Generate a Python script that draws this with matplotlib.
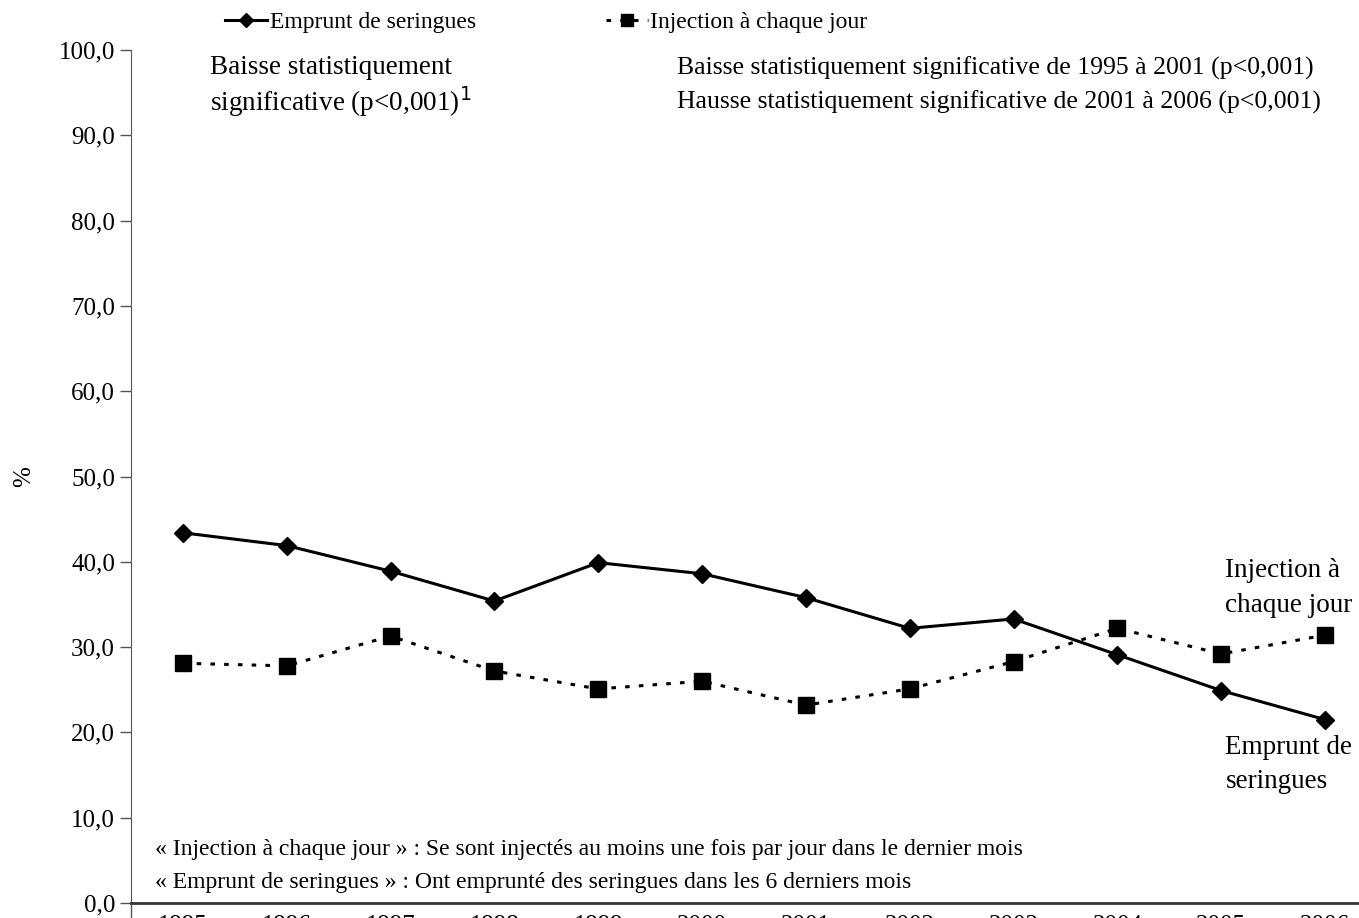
import matplotlib.pyplot as plt
import numpy as np

plt.rcParams['font.family'] = ['Liberation Serif', 'DejaVu Serif']

annees = ['1995', '1996', '1997', '1998', '1999', '2000',
          '2001', '2002', '2003', '2004', '2005', '2006']
emprunt = [43.4, 41.9, 38.9, 35.4, 39.9, 38.6, 35.8, 32.2, 33.3, 29.1, 24.9, 21.5]
injection = [28.1, 27.8, 31.3, 27.2, 25.1, 26.0, 23.2, 25.1, 28.3, 32.2, 29.2, 31.4]
y_ticks = np.arange(0, 101, 10)

fig = plt.figure(figsize=(13.59, 9.18), dpi=100)
# l'axe est coupé à droite et en bas comme dans l'original
ax = fig.add_axes([131 / 1359, 15 / 918, 1246 / 1359, 853 / 918])

x = np.arange(len(annees))
ax.plot(x, emprunt, color='black', lw=2.2, marker='D', ms=9, label='Emprunt de seringues')
ax.plot(x, injection, color='black', lw=2.2, ls=(0, (1.5, 3)), marker='s', ms=11,
        label='Injection à chaque jour')

ax.set_xlim(-0.5, 11.5)
ax.set_ylim(0, 100)
ax.set_yticks(y_ticks)
ax.set_yticklabels([f'{v:.1f}'.replace('.', ',') for v in y_ticks], fontsize=18)
ax.set_xticks(x)
ax.set_xticklabels(annees, fontsize=18)
ax.set_xticks([-0.5], minor=True)
ax.tick_params(axis='x', which='major', length=0, pad=9)
ax.tick_params(axis='x', which='minor', length=15, width=1, color='#555555')
ax.tick_params(axis='y', length=8, width=1, direction='out', color='#555555')
ax.spines['top'].set_visible(False)
ax.spines['right'].set_visible(False)
ax.spines['left'].set_color('#555555')
ax.spines['bottom'].set_linewidth(2)
ax.spines['bottom'].set_color('#333333')
ax.set_ylabel('%', fontsize=18, labelpad=17)

ax.legend(loc='lower left', bbox_to_anchor=(0.062, 1.0), ncol=2, frameon=False,
          fontsize=17, handlelength=1.8, columnspacing=5.5, borderaxespad=0.3,
          handletextpad=0.1, markerscale=0.75)

kw = dict(fontsize=19.5, transform=ax.transData, va='center', ha='left')
ax.text(0.26, 97.9, 'Baisse statistiquement', **kw)
ax.text(0.26, 93.9, 'significative (p<0,001)$^{1}$', **kw)
kw_r = dict(kw, fontsize=18.5)
ax.text(4.76, 97.9, 'Baisse statistiquement significative de 1995 à 2001 (p<0,001)', **kw_r)
ax.text(4.76, 93.9, 'Hausse statistiquement significative de 2001 à 2006 (p<0,001)', **kw_r)
ax.text(10.04, 39.0, 'Injection à', **kw)
ax.text(10.04, 34.9, 'chaque jour', **kw)
ax.text(10.04, 18.2, 'Emprunt de', **kw)
ax.text(10.04, 14.3, 'seringues', **kw)
kw_note = dict(fontsize=17, transform=ax.transData, va='center', ha='left')
ax.text(-0.27, 6.3, '« Injection à chaque jour » : Se sont injectés au moins une fois par jour dans le dernier mois', **kw_note)
ax.text(-0.27, 2.4, '« Emprunt de seringues » : Ont emprunté des seringues dans les 6 derniers mois', **kw_note)

fig.savefig('out.png', dpi=100)
